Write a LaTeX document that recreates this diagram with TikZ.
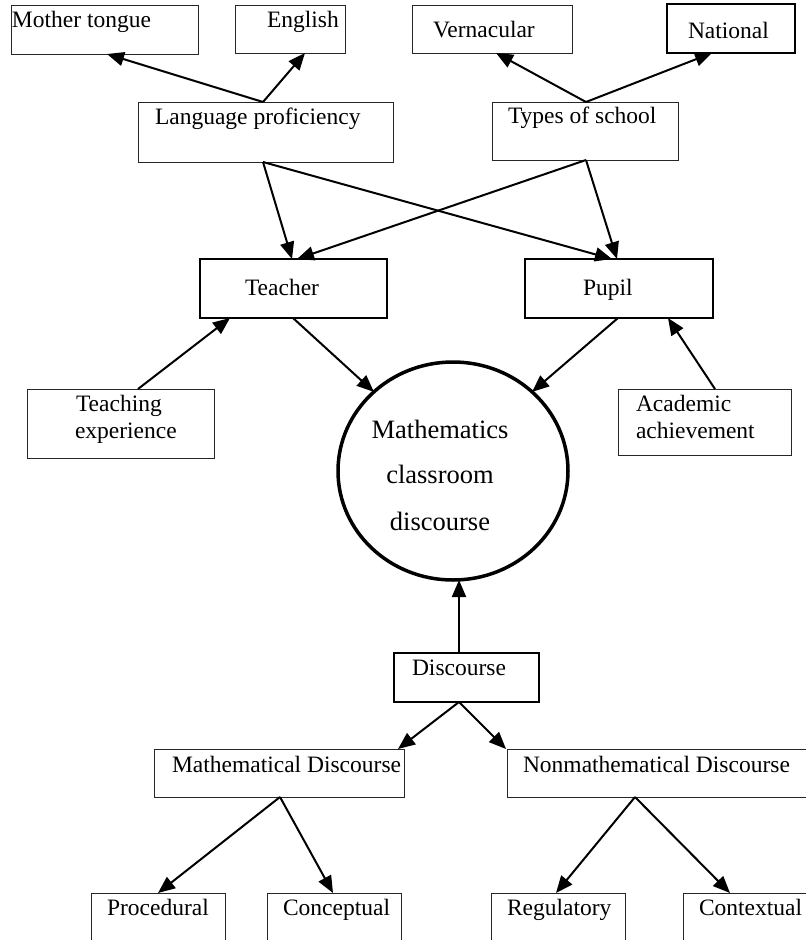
\documentclass[tikz,border=0pt]{standalone}
\usepackage{fontspec}
\setmainfont{Liberation Serif}
\usetikzlibrary{shapes.geometric,arrows.meta}
\tikzset{
  bx/.style={draw=black!85, line width=1pt, rectangle, inner sep=0pt, outer sep=0pt},
  bxthick/.style={bx, draw=black, line width=2.5pt},
  lbl/.style={inner sep=0pt, outer sep=0pt, anchor=base west, font=\fontsize{23.5}{28}\selectfont},
  clbl/.style={inner sep=0pt, outer sep=0pt, anchor=base, font=\fontsize{26.5}{32}\selectfont},
  arr/.style={draw=black, line width=2pt, -{Triangle[length=17pt,width=14pt]}}
}
\begin{document}
\begin{tikzpicture}[x=1pt,y=-1pt]
\useasboundingbox (0,0) rectangle (806,940);
\clip (0,0) rectangle (806,940);
\fill[white] (0,0) rectangle (806,940);
% boxes
\node[bx, minimum width=187pt, minimum height=49pt] (mt) at (104.5,29.5) {};
\node[bx, minimum width=110pt, minimum height=48pt] (en) at (290,29) {};
\node[bx, minimum width=160pt, minimum height=48pt] (vn) at (492,29) {};
\node[bxthick, minimum width=128pt, minimum height=49pt] (na) at (731,28.5) {};
\node[bx, minimum width=255pt, minimum height=60pt] (lp) at (265.5,132) {};
\node[bx, minimum width=186pt, minimum height=58pt] (ts) at (585,131) {};
\node[bxthick, minimum width=187pt, minimum height=59pt] (te) at (293.5,288.5) {};
\node[bxthick, minimum width=188pt, minimum height=59pt] (pu) at (619,288.5) {};
\node[bx, minimum width=187pt, minimum height=69pt] (tx) at (120.5,423.5) {};
\node[bx, minimum width=173pt, minimum height=66pt] (ac) at (704.5,422) {};
\node[draw=black, line width=3.5pt, ellipse, inner sep=0pt, outer sep=0pt, minimum width=230pt, minimum height=218pt] (circ) at (453,471) {};
\node[bxthick, minimum width=145pt, minimum height=49pt] (di) at (466.5,677.5) {};
\node[bx, minimum width=250pt, minimum height=48pt] (md) at (279,773) {};
\node[bx, minimum width=333pt, minimum height=48pt] (nd) at (673.5,773) {};
\node[bx, minimum width=134pt, minimum height=67pt] (pr) at (158,926.5) {};
\node[bx, minimum width=134pt, minimum height=67pt] (co) at (334,926.5) {};
\node[bx, minimum width=134pt, minimum height=67pt] (re) at (558,926.5) {};
\node[bx, minimum width=157pt, minimum height=67pt] (cx) at (761.5,926.5) {};
% labels
\node[lbl] (mtt) at (12,27) {Mother tongue};
\node[lbl] (ent) at (267,27) {English};
\node[lbl] (vnt) at (433,37) {Vernacular};
\node[lbl] (nat) at (688,38) {National};
\node[lbl] (lpt) at (155,124) {Language proficiency};
\node[lbl] (tst) at (508,123) {Types of school};
\node[lbl] (tet) at (245,295) {Teacher};
\node[lbl] (put) at (583,295) {Pupil};
\node[lbl] (txa) at (76,411) {Teaching};
\node[lbl] (txb) at (75,438) {experience};
\node[lbl] (aca) at (636,411) {Academic};
\node[lbl] (acb) at (636,438) {achievement};
\node[clbl] (ca) at (440,438) {Mathematics};
\node[clbl] (cb) at (440,483) {classroom};
\node[clbl] (cc) at (440,530) {discourse};
\node[lbl] (dit) at (412,675) {Discourse};
\node[lbl] (mdt) at (172,772) {Mathematical Discourse};
\node[lbl] (ndt) at (523,772) {Nonmathematical Discourse};
\node[lbl] (prt) at (107,915) {Procedural};
\node[lbl] (cot) at (283,915) {Conceptual};
\node[lbl] (ret) at (507,915) {Regulatory};
\node[lbl] (cxt) at (699,915) {Contextual};
% connectors
\draw[arr] ([xshift=-2.5pt]lp.north) -- ([xshift=2.5pt]mt.south);
\draw[arr] ([xshift=-2.5pt]lp.north) -- ([xshift=15pt]en.south);
\draw[arr] ([xshift=1pt]ts.north) -- ([xshift=4pt]vn.south);
\draw[arr] ([xshift=1pt]ts.north) -- ([xshift=-19pt]na.south);
\draw[arr] ([xshift=-2.5pt]lp.south) -- ([xshift=-1.5pt]te.north);
\draw[arr] ([xshift=-2.5pt]lp.south) -- ([xshift=-7pt]pu.north);
\draw[arr] ([xshift=1pt]ts.south) -- ([xshift=3.5pt]te.north);
\draw[arr] ([xshift=1pt]ts.south) -- ([xshift=-2pt]pu.north);
\draw[arr] ([xshift=17.5pt]tx.north) -- ([xshift=-63.5pt]te.south);
\draw[arr] ([xshift=10.5pt]ac.north) -- ([xshift=49pt]pu.south);
\draw[arr] ([xshift=-0.5pt]te.south) -- (circ.135);
\draw[arr] ([xshift=-1pt]pu.south) -- (circ.45);
\draw[arr] ([xshift=-7.5pt]di.north) -- ([xshift=-7.5pt]di.north |- circ.south);
\draw[arr] ([xshift=-7.5pt]di.south) -- ([xshift=119pt]md.north);
\draw[arr] ([xshift=-7.5pt]di.south) -- ([xshift=-167.5pt]nd.north);
\draw[arr] ([xshift=1pt]md.south) -- (pr.north);
\draw[arr] ([xshift=1pt]md.south) -- ([xshift=-1pt]co.north);
\draw[arr] ([xshift=-38.5pt]nd.south) -- ([xshift=-2pt]re.north);
\draw[arr] ([xshift=-38.5pt]nd.south) -- ([xshift=-31.5pt]cx.north);
\end{tikzpicture}
\end{document}
